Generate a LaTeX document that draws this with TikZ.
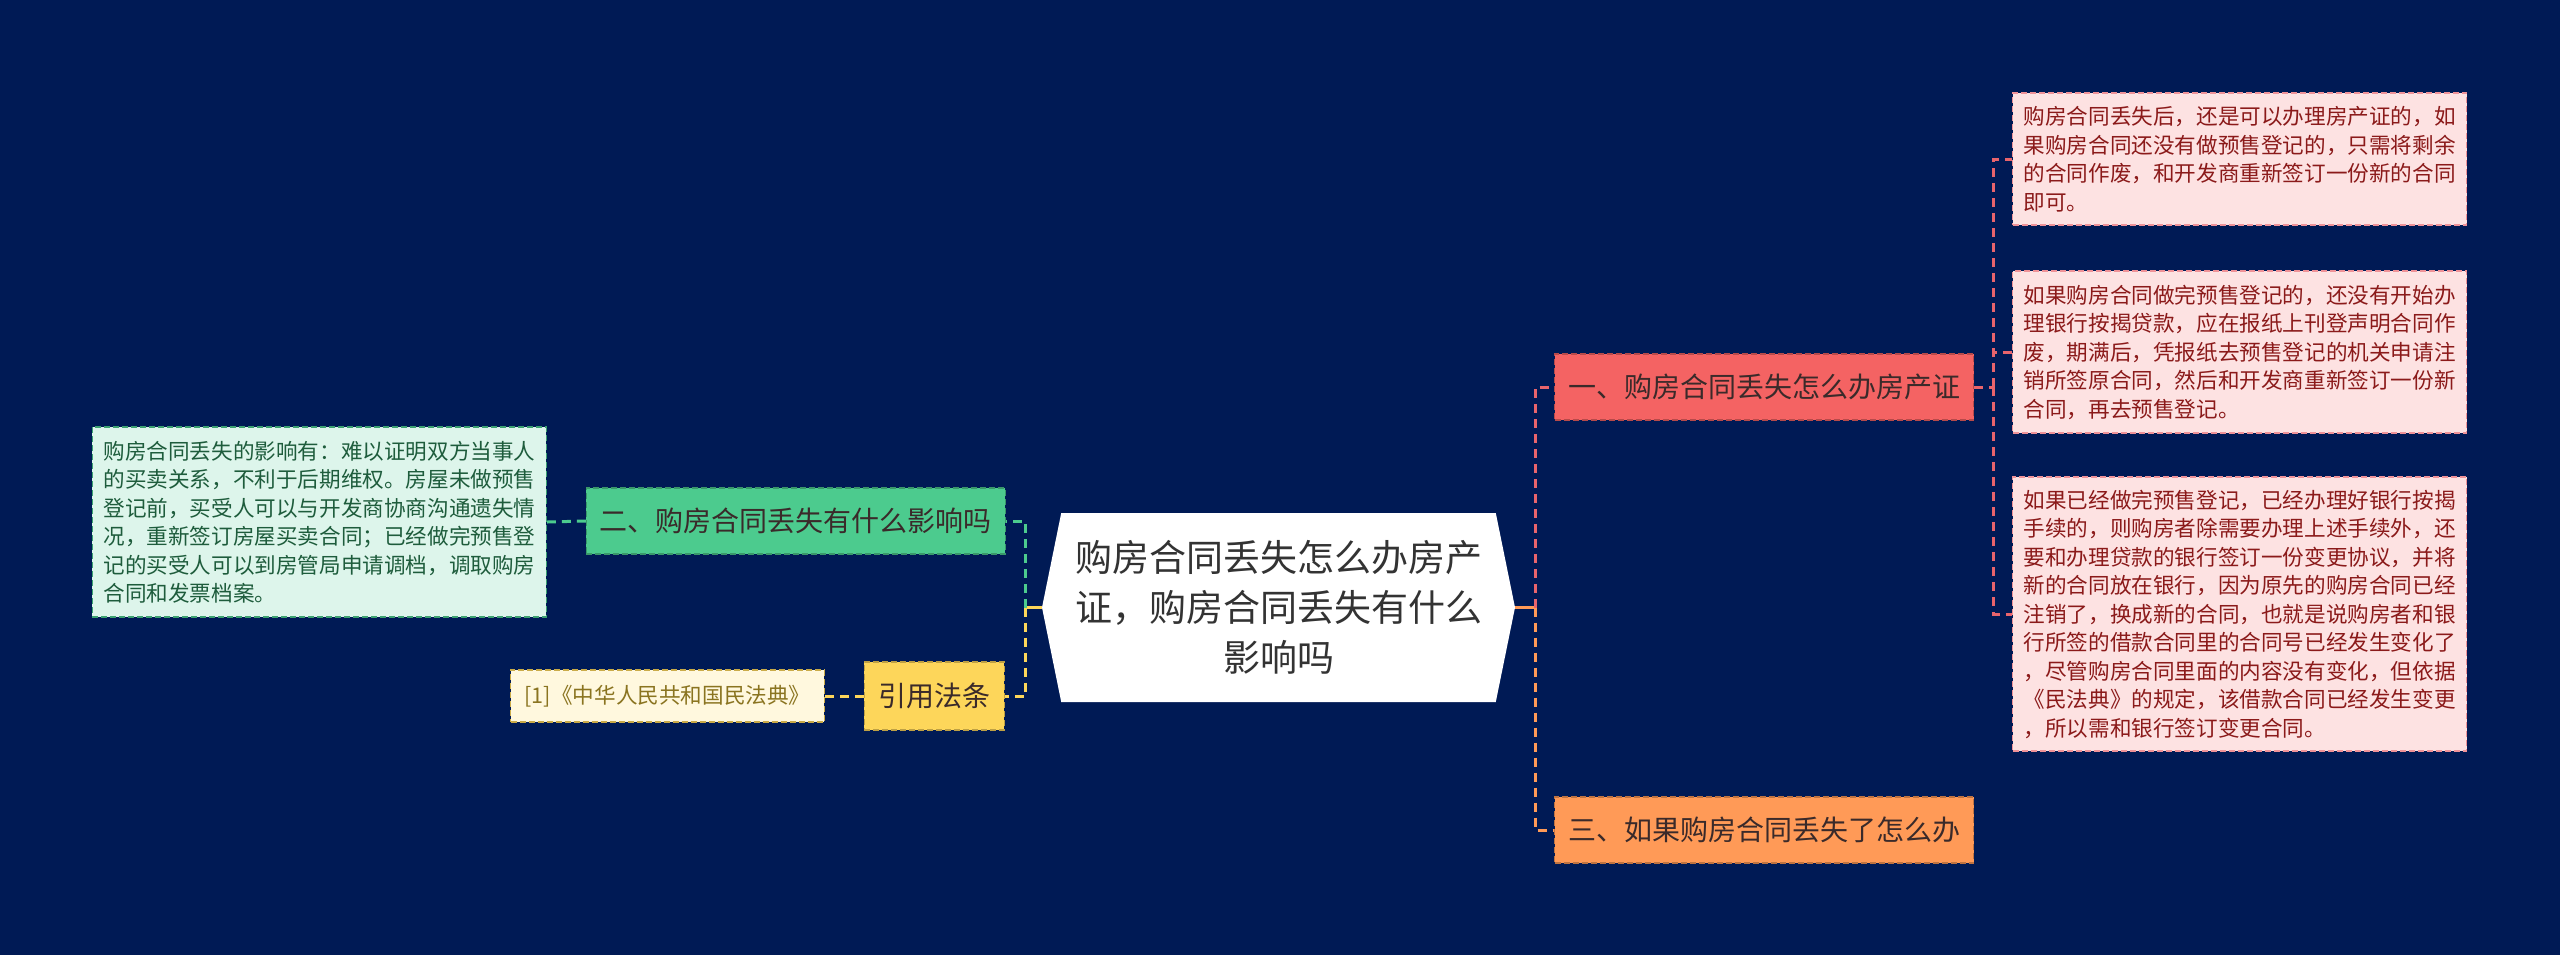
\documentclass[tikz,border=0pt]{standalone}
\usepackage{fontspec}
\setmainfont{Noto Sans CJK SC}
\usetikzlibrary{shapes.symbols}
\definecolor{bgnavy}{HTML}{001A55}
\definecolor{redfill}{HTML}{F46363}
\definecolor{redline}{HTML}{E8646C}
\definecolor{pinkfill}{HTML}{FDE2E2}
\definecolor{pinktext}{HTML}{8B1A1A}
\definecolor{greenfill}{HTML}{4CCB8E}
\definecolor{mintfill}{HTML}{DDF5EB}
\definecolor{minttext}{HTML}{1E5C3C}
\definecolor{goldfill}{HTML}{FDD65A}
\definecolor{creamfill}{HTML}{FFF8DE}
\definecolor{creamtext}{HTML}{8A7420}
\definecolor{orangefill}{HTML}{FF9A57}
\definecolor{darktext}{HTML}{3A2A2A}

\begin{document}
\begin{tikzpicture}[
  x=0.5pt, y=-0.5pt,
  hub/.style={shape=signal, signal to=west and east, signal pointer angle=157,
    fill=white, align=center, text=black!80, inner sep=0pt,
    minimum width=236.5pt, minimum height=94.5pt,
    font=\fontsize{18.5}{25}\selectfont},
  branch/.style={draw=#1!75!black, fill=#1, dash pattern=on 3pt off 1.5pt,
    line width=0.6pt, text=darktext, inner sep=0pt,
    minimum width=209.5pt, minimum height=33pt,
    font=\fontsize{14}{17}\selectfont},
  note/.style={draw=#1, dash pattern=on 3pt off 1.5pt, line width=0.6pt,
    align=left, inner xsep=5.5pt, inner ysep=0pt, text width=216pt,
    font=\fontsize{10.8}{14.25}\selectfont},
  link/.style={line width=1.5pt, dash pattern=on 4.5pt off 3pt}
]
\fill[bgnavy] (0,0) rectangle (2560,955);

\node[hub] (hub) at (1278.5,607.5) {购房合同丢失怎么办房产\\证，购房合同丢失有什么\\影响吗};

\node[branch=redfill, anchor=west] (cert) at (1554,387) {一、购房合同丢失怎么办房产证};
\node[branch=orangefill, anchor=west] (lost) at (1554,830) {三、如果购房合同丢失了怎么办};
\node[branch=greenfill, anchor=east] (impact) at (1006,521) {二、购房合同丢失有什么影响吗};
\node[branch=goldfill, anchor=east, minimum width=70pt, minimum height=34pt] (law) at (1005,696) {引用法条};

\node[note=redline!70, fill=pinkfill, text=pinktext, anchor=west, minimum height=66pt] (p1) at (2012,159)
  {购房合同丢失后，还是可以办理房产证的，如\\果购房合同还没有做预售登记的，只需将剩余\\的合同作废，和开发商重新签订一份新的合同\\即可。};
\node[note=redline!70, fill=pinkfill, text=pinktext, anchor=west, minimum height=81pt] (p2) at (2012,352)
  {如果购房合同做完预售登记的，还没有开始办\\理银行按揭贷款，应在报纸上刊登声明合同作\\废，期满后，凭报纸去预售登记的机关申请注\\销所签原合同，然后和开发商重新签订一份新\\合同，再去预售登记。};
\node[note=redline!70, fill=pinkfill, text=pinktext, anchor=west, minimum height=137pt] (p3) at (2012,614)
  {如果已经做完预售登记，已经办理好银行按揭\\手续的，则购房者除需要办理上述手续外，还\\要和办理贷款的银行签订一份变更协议，并将\\新的合同放在银行，因为原先的购房合同已经\\注销了，换成新的合同，也就是说购房者和银\\行所签的借款合同里的合同号已经发生变化了\\，尽管购房合同里面的内容没有变化，但依据\\《民法典》的规定，该借款合同已经发生变更\\，所以需和银行签订变更合同。};
\node[note=greenfill!80!black, fill=mintfill, text=minttext, anchor=east, minimum height=95pt] (effect) at (547,522)
  {购房合同丢失的影响有：难以证明双方当事人\\的买卖关系，不利于后期维权。房屋未做预售\\登记前，买受人可以与开发商协商沟通遗失情\\况，重新签订房屋买卖合同；已经做完预售登\\记的买受人可以到房管局申请调档，调取购房\\合同和发票档案。};
\node[note=goldfill!80!black, fill=creamfill, text=creamtext, anchor=east, text width=,
  inner xsep=7pt, minimum height=26pt] (code) at (825,696) {[1]《中华人民共和国民法典》};

\coordinate (lj) at (1025,607.5);
\coordinate (rj) at (1535,607.5);
\coordinate (pj) at (1993,387);

\draw[line width=1.5pt, goldfill] (hub.west) -- (lj);
\draw[line width=1.5pt, orangefill] (hub.east) -- (rj);
\draw[link, greenfill] (lj) |- (impact.east);
\draw[link, goldfill] (lj) |- (law.east);
\draw[link, redline] (rj) |- (cert.west);
\draw[link, orangefill] (rj) |- (lost.west);
\draw[link, greenfill] (impact.west) -- (effect.east);
\draw[link, goldfill] (law.west) -- (code.east);
\draw[link, redline] (cert.east) -- (pj);
\draw[link, redline] (pj) |- (p1.west);
\draw[link, redline] (pj) |- (p2.west);
\draw[link, redline] (pj) |- (p3.west);
\end{tikzpicture}
\end{document}
